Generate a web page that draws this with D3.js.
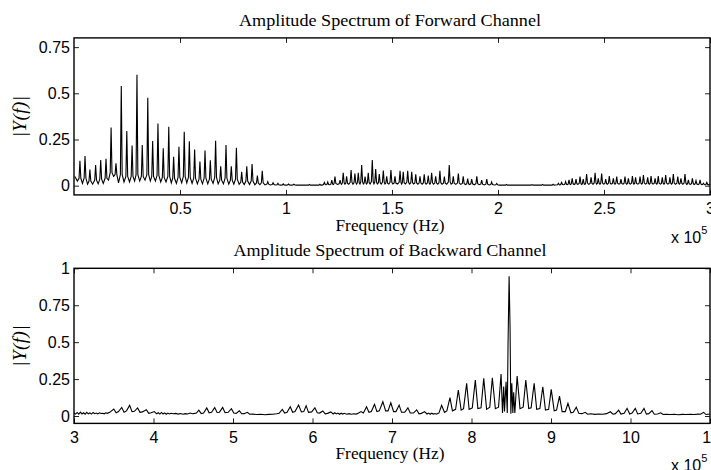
<!DOCTYPE html>
<html><head><meta charset="utf-8">
<script src="https://cdn.jsdelivr.net/npm/d3@7"></script>
<style>body{margin:0;background:#fff} svg{display:block}</style>
</head><body>
<svg id="c" width="711" height="470"></svg>
<script>
// ---------- data (frequency in units of 1e5 Hz, amplitude |Y(f)|) ----------
// two-value entries: trace level between peaks; three-value entries: [freq, peak, level at spike foot]
const titles = ["Amplitude Spectrum of Forward Channel", "Amplitude Spectrum of Backward Channel"];
const xLabel = "Frequency (Hz)";
const yLabel = "|Y(f)|";
const fwdXTicks = [0.5, 1, 1.5, 2, 2.5, 3];
const fwdXLabels = ["0.5", "1", "1.5", "2", "2.5", "3"];
const fwdYTicks = [0, 0.25, 0.5, 0.75];
const fwdYLabels = ["0", "0.25", "0.5", "0.75"];
const bwdXTicks = [3, 4, 5, 6, 7, 8, 9, 10, 11];
const bwdXLabels = ["3", "4", "5", "6", "7", "8", "9", "10", "11"];
const bwdYTicks = [0, 0.25, 0.5, 0.75, 1];
const bwdYLabels = ["0", "0.25", "0.5", "0.75", "1"];
const fwdXDomain = [0, 3];
const fwdYDomain = [-0.05, 0.8];
const bwdXDomain = [3, 11];
const bwdYDomain = [-0.05, 1];

const fwdSpectrum = [
[0.004,0.05],[0.016,0.025],[0.028,0.135,0.04],[0.04,0.012],[0.052,0.16,0.04],[0.064,0.008],[0.075,0.087,0.025],
[0.088,0.008],[0.102,0.112,0.03],[0.114,0.01],[0.126,0.139,0.035],[0.138,0.012],[0.151,0.146,0.04],[0.163,0.03],
[0.175,0.315,0.07],[0.187,0.05],[0.198,0.121,0.06],[0.21,0.015],[0.223,0.54,0.06],[0.236,0.02],[0.249,0.296,0.05],
[0.262,0.02],[0.274,0.217,0.05],[0.286,0.025],[0.297,0.60,0.06],[0.31,0.025],[0.322,0.22,0.05],[0.335,0.03],
[0.348,0.476,0.06],[0.36,0.025],[0.371,0.242,0.05],[0.384,0.025],[0.396,0.337,0.055],[0.409,0.02],[0.421,0.203,0.045],
[0.434,0.02],[0.447,0.319,0.05],[0.459,0.015],[0.470,0.157,0.04],[0.483,0.012],[0.495,0.211,0.045],[0.508,0.015],
[0.520,0.292,0.05],[0.532,0.015],[0.544,0.24,0.045],[0.557,0.012],[0.569,0.196,0.04],[0.582,0.01],[0.594,0.13,0.035],
[0.606,0.01],[0.618,0.19,0.04],[0.631,0.01],[0.643,0.137,0.035],[0.656,0.012],[0.668,0.243,0.045],[0.68,0.01],
[0.692,0.105,0.03],[0.705,0.01],[0.717,0.22,0.04],[0.73,0.008],[0.742,0.105,0.03],[0.754,0.008],[0.766,0.205,0.035],
[0.779,0.007],[0.791,0.075,0.02],[0.803,0.006],[0.815,0.105,0.025],[0.828,0.006],[0.840,0.117,0.025],[0.853,0.005],
[0.865,0.055,0.015],[0.877,0.005],[0.888,0.08,0.015],[0.901,0.004],[0.914,0.022,0.008],[0.926,0.004],
[0.939,0.016,0.006],[0.951,0.004],[0.962,0.013,0.005],[0.975,0.003],[0.987,0.01,0.004],[1.0,0.003],
[1.012,0.009,0.004],[1.025,0.003],[1.037,0.008,0.004],[1.05,0.003],[1.1,0.003],[1.11,0.007,0.003],
[1.12,0.003],[1.15,0.003],[1.16,0.008,0.003],[1.17,0.003],
[1.181,0.018,0.006],[1.189,0.005],[1.197,0.02,0.006],[1.206,0.005],[1.216,0.03,0.008],[1.224,0.006],
[1.231,0.049,0.012],[1.243,0.007],[1.255,0.03,0.01],[1.262,0.007],[1.270,0.07,0.015],[1.278,0.008],
[1.286,0.05,0.012],[1.296,0.008],[1.307,0.085,0.018],[1.316,0.008],[1.325,0.066,0.016],[1.333,0.008],
[1.341,0.07,0.016],[1.349,0.009],[1.357,0.112,0.02],[1.365,0.009],[1.373,0.049,0.014],[1.38,0.009],
[1.388,0.07,0.016],[1.397,0.009],[1.407,0.139,0.022],[1.415,0.01],[1.423,0.09,0.018],[1.431,0.009],
[1.440,0.063,0.016],[1.449,0.009],[1.459,0.082,0.018],[1.467,0.009],[1.475,0.05,0.014],[1.485,0.009],
[1.495,0.085,0.018],[1.504,0.009],[1.514,0.05,0.014],[1.526,0.009],[1.538,0.08,0.018],[1.545,0.009],
[1.553,0.075,0.016],[1.563,0.009],[1.574,0.08,0.018],[1.583,0.009],[1.593,0.075,0.016],[1.602,0.009],
[1.612,0.062,0.015],[1.622,0.008],[1.632,0.05,0.014],[1.642,0.008],[1.652,0.062,0.015],[1.661,0.008],
[1.671,0.055,0.014],[1.679,0.008],[1.687,0.07,0.016],[1.696,0.008],[1.706,0.05,0.014],[1.716,0.008],
[1.726,0.08,0.016],[1.736,0.008],[1.747,0.049,0.013],[1.758,0.008],[1.770,0.112,0.02],[1.779,0.008],
[1.789,0.05,0.013],[1.801,0.007],[1.813,0.066,0.014],[1.824,0.007],[1.836,0.05,0.012],[1.846,0.006],
[1.857,0.038,0.01],[1.866,0.006],[1.876,0.035,0.01],[1.888,0.005],[1.900,0.05,0.011],[1.911,0.005],
[1.923,0.03,0.008],[1.935,0.004],[1.947,0.035,0.008],[1.958,0.004],[1.970,0.02,0.006],[1.982,0.004],
[1.994,0.012,0.005],[2.006,0.003],[2.03,0.003],[2.04,0.007,0.003],[2.05,0.003],[2.15,0.003],[2.16,0.006,0.003],
[2.17,0.003],[2.2,0.003],[2.21,0.007,0.003],[2.22,0.003],[2.25,0.003],[2.26,0.008,0.003],[2.27,0.004],
[2.285,0.013,0.005],[2.292,0.004],[2.300,0.018,0.006],[2.31,0.005],[2.319,0.022,0.007],[2.327,0.005],
[2.335,0.031,0.008],[2.342,0.006],[2.350,0.04,0.01],[2.359,0.006],[2.368,0.035,0.01],[2.377,0.007],
[2.387,0.049,0.012],[2.394,0.007],[2.402,0.035,0.01],[2.41,0.007],[2.418,0.063,0.014],[2.428,0.007],
[2.439,0.045,0.012],[2.448,0.008],[2.458,0.07,0.015],[2.465,0.008],[2.473,0.04,0.012],[2.481,0.008],
[2.489,0.066,0.014],[2.498,0.008],[2.508,0.035,0.011],[2.516,0.008],[2.525,0.052,0.013],[2.534,0.008],
[2.544,0.04,0.012],[2.552,0.008],[2.560,0.049,0.013],[2.57,0.008],[2.580,0.035,0.011],[2.59,0.008],
[2.599,0.049,0.013],[2.607,0.008],[2.615,0.04,0.012],[2.624,0.008],[2.634,0.052,0.013],[2.641,0.008],
[2.649,0.045,0.012],[2.66,0.008],[2.670,0.049,0.013],[2.678,0.008],[2.686,0.058,0.014],[2.696,0.008],
[2.706,0.045,0.012],[2.714,0.008],[2.722,0.052,0.013],[2.731,0.008],[2.741,0.04,0.012],[2.749,0.008],
[2.756,0.052,0.013],[2.766,0.008],[2.775,0.045,0.012],[2.783,0.008],[2.791,0.058,0.014],[2.801,0.008],
[2.811,0.045,0.012],[2.819,0.008],[2.827,0.063,0.014],[2.837,0.008],[2.848,0.049,0.013],[2.855,0.008],
[2.863,0.04,0.012],[2.872,0.008],[2.882,0.063,0.014],[2.89,0.007],[2.898,0.031,0.01],[2.907,0.007],
[2.917,0.04,0.011],[2.925,0.006],[2.934,0.027,0.009],[2.944,0.006],[2.953,0.031,0.009],[2.961,0.005],
[2.969,0.013,0.006],[2.977,0.005],[2.985,0.018,0.006],[2.993,0.004],[3.0,0.01]
];

const bwdSpectrum = [
[3.00,0.02],[3.02,0.013],[3.04,0.024],[3.06,0.012],[3.08,0.026],[3.10,0.014],[3.12,0.022],[3.14,0.012],
[3.16,0.025],[3.18,0.015],[3.20,0.021],[3.22,0.013],[3.24,0.024],[3.26,0.016],[3.28,0.02],[3.30,0.014],
[3.32,0.022],[3.34,0.017],[3.36,0.019],[3.38,0.015],[3.40,0.022],[3.42,0.018],[3.45,0.025],
[3.50,0.047],[3.53,0.022],[3.56,0.03],[3.60,0.058],[3.63,0.025],[3.66,0.035],[3.70,0.072],[3.73,0.03],
[3.76,0.032],[3.80,0.055],[3.83,0.025],[3.86,0.028],[3.91,0.042],[3.94,0.018],[3.97,0.022],[4.01,0.03],
[4.04,0.015],[4.06,0.022],[4.08,0.013],[4.10,0.024],[4.12,0.014],[4.14,0.021],[4.16,0.012],[4.18,0.02],
[4.20,0.014],[4.22,0.019],[4.25,0.015],[4.28,0.018],[4.31,0.013],[4.34,0.017],[4.37,0.012],[4.40,0.016],
[4.43,0.014],[4.46,0.02],[4.49,0.015],[4.52,0.018],[4.54,0.02],
[4.57,0.04],[4.60,0.016],[4.63,0.02],[4.67,0.055],[4.70,0.022],[4.73,0.025],[4.77,0.057],[4.80,0.024],
[4.83,0.026],[4.87,0.058],[4.90,0.022],[4.94,0.025],[4.98,0.05],[5.01,0.02],[5.04,0.018],[5.08,0.035],
[5.11,0.015],[5.14,0.016],[5.18,0.025],[5.21,0.012],[5.25,0.013],[5.30,0.01],[5.35,0.012],[5.40,0.009],
[5.45,0.011],[5.50,0.012],[5.55,0.015],
[5.58,0.018],[5.62,0.045],[5.65,0.02],[5.68,0.025],[5.72,0.063],[5.75,0.025],[5.78,0.03],[5.825,0.074],
[5.86,0.028],[5.89,0.03],[5.92,0.07],[5.95,0.025],[5.99,0.028],[6.03,0.056],[6.06,0.022],[6.09,0.02],
[6.13,0.034],[6.16,0.015],[6.19,0.018],[6.23,0.028],[6.26,0.014],[6.28,0.022],[6.30,0.014],[6.32,0.02],
[6.34,0.012],[6.36,0.019],[6.38,0.013],[6.40,0.018],[6.43,0.012],[6.46,0.016],[6.49,0.012],[6.52,0.015],
[6.55,0.013],[6.58,0.02],
[6.61,0.03],[6.64,0.02],[6.68,0.063],[6.71,0.025],[6.74,0.03],[6.78,0.08],[6.81,0.03],[6.84,0.035],
[6.885,0.097],[6.92,0.035],[6.95,0.035],[6.985,0.09],[7.02,0.03],[7.05,0.03],[7.09,0.074],[7.12,0.025],
[7.16,0.025],[7.20,0.055],[7.23,0.02],[7.27,0.02],[7.31,0.042],[7.34,0.015],[7.37,0.018],[7.41,0.03],
[7.44,0.014],[7.46,0.02],[7.48,0.012],[7.50,0.019],[7.52,0.013],[7.54,0.017],[7.56,0.012],[7.58,0.018],
[7.59,0.02],[7.624,0.072],[7.66,0.025],[7.69,0.035],[7.729,0.124],[7.76,0.035],[7.80,0.045],[7.834,0.176],
[7.87,0.04],[7.90,0.05],[7.939,0.221],[7.97,0.045],[8.01,0.055],[8.048,0.243],[8.08,0.05],[8.12,0.055],
[8.154,0.255],[8.19,0.045],[8.23,0.06],[8.262,0.259],[8.30,0.05],[8.34,0.06],[8.372,0.284],[8.39,0.02],
[8.405,0.2],[8.415,0.03],[8.435,0.232],[8.45,0.02],[8.46,0.5],[8.473,0.946],[8.485,0.6],[8.495,0.015],
[8.507,0.221],[8.52,0.02],[8.53,0.16],[8.545,0.02],[8.574,0.27],[8.61,0.05],[8.65,0.06],[8.683,0.243],
[8.72,0.05],[8.75,0.055],[8.788,0.221],[8.82,0.045],[8.86,0.05],[8.897,0.198],[8.93,0.04],[8.97,0.045],
[9.003,0.18],[9.04,0.035],[9.07,0.04],[9.107,0.135],[9.14,0.03],[9.18,0.03],[9.213,0.086],[9.25,0.022],
[9.28,0.025],[9.318,0.059],[9.35,0.018],[9.39,0.016],[9.43,0.025],[9.46,0.012],[9.50,0.015],[9.55,0.011],
[9.60,0.014],[9.65,0.012],[9.70,0.016],
[9.746,0.029],[9.78,0.012],[9.81,0.016],[9.851,0.04],[9.88,0.013],[9.92,0.018],[9.957,0.052],[9.99,0.014],
[10.02,0.02],[10.06,0.052],[10.09,0.014],[10.13,0.018],[10.17,0.052],[10.20,0.013],[10.23,0.016],[10.27,0.036],
[10.30,0.012],[10.34,0.014],[10.38,0.022],[10.41,0.01],[10.45,0.012],[10.50,0.01],[10.55,0.012],[10.60,0.009],
[10.65,0.011],[10.70,0.01],[10.75,0.012],[10.80,0.01],[10.85,0.013],[10.88,0.012],[10.92,0.025],[10.95,0.01],
[11.0,0.014]
];

// ---------- drawing ----------
const svg = d3.select("#c");
const tickFont = "'Liberation Sans', Arial, sans-serif";
const serifFont = "'Liberation Serif', 'Times New Roman', serif";

function panel(opt) {
  const x = d3.scaleLinear().domain(opt.xDomain).range([74, 710]);
  const y = d3.scaleLinear().domain(opt.yDomain).range([opt.bottom, opt.top]);
  const g = svg.append("g");
  const clipId = "clip" + opt.id;
  svg.append("clipPath").attr("id", clipId).append("rect")
    .attr("x", 74).attr("y", opt.top).attr("width", 636).attr("height", opt.bottom - opt.top);

  // spikes: narrow rise from the foot level to the peak and back
  const hw = x.invert(74 + 0.9) - x.invert(74);
  const pts = opt.data.flatMap(d => d.length === 3
    ? [[d[0] - hw, d[2]], [d[0], d[1]], [d[0] + hw, d[2]]]
    : [d]);
  const line = d3.line().x(d => x(d[0])).y(d => y(d[1]));
  g.append("path").datum(pts)
    .attr("clip-path", `url(#${clipId})`)
    .attr("d", line).attr("fill", "none").attr("stroke", "#000")
    .attr("stroke-width", 1.1).attr("stroke-linejoin", "miter");

  const fmtX = (d) => opt.xLabels[opt.xTicks.indexOf(d)];
  const fmtY = (d) => opt.yLabels[opt.yTicks.indexOf(d)];

  const ax = g.append("g").attr("transform", `translate(0,${opt.bottom})`)
    .call(d3.axisBottom(x).tickValues(opt.xTicks).tickFormat(fmtX).tickSizeInner(-5).tickSizeOuter(0).tickPadding(8));
  const ay = g.append("g").attr("transform", `translate(74,0)`)
    .call(d3.axisLeft(y).tickValues(opt.yTicks).tickFormat(fmtY).tickSizeInner(-5).tickSizeOuter(0).tickPadding(4));
  const at = g.append("g").attr("transform", `translate(0,${opt.top})`)
    .call(d3.axisTop(x).tickValues(opt.xTicks).tickFormat("").tickSizeInner(-5).tickSizeOuter(0));
  const ar = g.append("g").attr("transform", `translate(710,0)`)
    .call(d3.axisRight(y).tickValues(opt.yTicks).tickFormat("").tickSizeInner(-5).tickSizeOuter(0));
  [ax, ay, at, ar].forEach(a => {
    a.select(".domain").remove();
    a.selectAll("line").attr("stroke", "#222").attr("stroke-width", 1);
    a.selectAll("text").attr("font-family", tickFont).attr("font-size", 16).attr("fill", "#000");
  });

  g.append("rect").attr("x", 74).attr("y", opt.top).attr("width", 636).attr("height", opt.bottom - opt.top)
    .attr("fill", "none").attr("stroke", "#000").attr("stroke-width", 1.4);

  // title
  g.append("text").attr("x", 390).attr("y", opt.top - 12).attr("text-anchor", "middle")
    .attr("font-family", serifFont).attr("font-size", 17)
    .attr("textLength", opt.titleLen).attr("lengthAdjust", "spacingAndGlyphs")
    .text(opt.title);
  // x label
  g.append("text").attr("x", 390).attr("y", opt.bottom + 36).attr("text-anchor", "middle")
    .attr("font-family", serifFont).attr("font-size", 17)
    .attr("textLength", 109).attr("lengthAdjust", "spacingAndGlyphs")
    .text(xLabel);
  // y label
  const cy = (opt.top + opt.bottom) / 2;
  g.append("text").attr("transform", `translate(26,${cy}) rotate(-90)`).attr("text-anchor", "middle")
    .attr("font-family", serifFont).attr("font-size", 19).attr("font-style", "italic")
    .attr("letter-spacing", 0.5)
    .text(yLabel);
  // exponent
  const ex = g.append("text").attr("x", 671).attr("y", opt.bottom + 48)
    .attr("font-family", tickFont).attr("font-size", 16);
  ex.append("tspan").text("x 10");
  ex.append("tspan").attr("dy", -9).attr("font-size", 11).text("5");
}

panel({id: 1, data: fwdSpectrum, xDomain: fwdXDomain, yDomain: fwdYDomain, top: 37.9, bottom: 194.9,
  xTicks: fwdXTicks, xLabels: fwdXLabels, yTicks: fwdYTicks, yLabels: fwdYLabels,
  title: titles[0], titleLen: 302});
panel({id: 2, data: bwdSpectrum, xDomain: bwdXDomain, yDomain: bwdYDomain, top: 268.3, bottom: 423.4,
  xTicks: bwdXTicks, xLabels: bwdXLabels, yTicks: bwdYTicks, yLabels: bwdYLabels,
  title: titles[1], titleLen: 313});
</script>
</body></html>
